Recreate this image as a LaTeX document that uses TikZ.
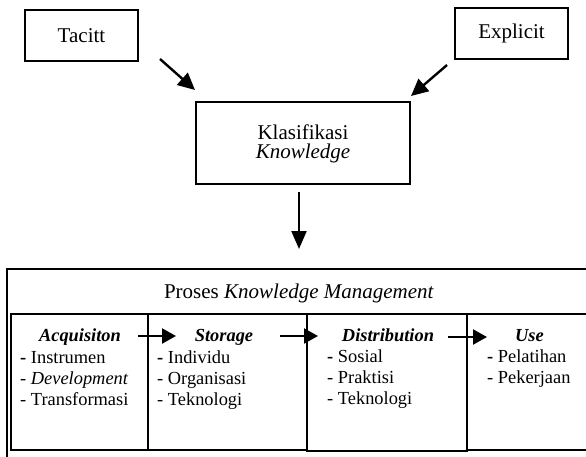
\documentclass[tikz,border=0pt]{standalone}
\usepackage{fontspec}
\setmainfont{Liberation Serif}
\usetikzlibrary{arrows.meta}
\begin{document}
\begin{tikzpicture}[x=1pt,y=-1pt,
  box/.style={draw, line width=1.1pt, rectangle, inner sep=0pt},
  big/.style={font=\fontsize{21}{20}\selectfont, inner sep=0pt},
  small/.style={font=\fontsize{18.4}{21}\selectfont, inner sep=0pt},
  arr/.style={line width=2.4pt, -{Triangle[length=17pt,width=16pt]}},
  darr/.style={line width=2.2pt, -{Triangle[length=18pt,width=15pt]}},
  harr/.style={line width=2.2pt, -{Triangle[length=14pt,width=15pt]}},
]
\useasboundingbox (0,0) rectangle (586,456);
\clip (0,0) rectangle (586,456);
% top boxes
\node[box, big, minimum width=113pt, minimum height=51pt] (tac) at (81.5,35.5) {Tacitt};
\node[box, big, minimum width=113pt, minimum height=51pt] (exp) at (511.5,33.5) {Explicit};
\node[box, minimum width=214pt, minimum height=82pt] (kla) at (303,143) {};
\node[big, anchor=base] (klat) at (303,139) {Klasifikasi};
\node[big, anchor=base] (klak) at (303,158) {\textit{Knowledge}};
% arrows to classification
\coordinate (t1) at (160,59);
\coordinate (t2) at (195,90);
\coordinate (e1) at (447,65);
\coordinate (e2) at (411,96);
\coordinate (d1) at (299,192);
\coordinate (d2) at (299,249);
\draw[arr] (t1) -- (t2);
\draw[arr] (e1) -- (e2);
\draw[darr] (d1) -- (d2);
% process frame
\node[box, minimum width=588pt, minimum height=196pt] (outer) at (301,367) {};
\node[big, anchor=base] (title) at (299,298) {Proses \textit{Knowledge Management}};
\node[box, minimum width=137pt, minimum height=136pt] (acq) at (79.5,382) {};
\node[box, minimum width=159pt, minimum height=136pt] (sto) at (227.5,382) {};
\node[box, minimum width=160pt, minimum height=137pt] (dis) at (387,382.5) {};
\node[box, minimum width=133pt, minimum height=136pt] (use) at (533.5,382) {};
% headings
\node[small, anchor=base] (acqh) at (80,341) {\textbf{\textit{Acquisiton}}};
\node[small, anchor=base] (stoh) at (224,341) {\textbf{\textit{Storage}}};
\node[small, anchor=base] (dish) at (388,341) {\textbf{\textit{Distribution}}};
\node[small, anchor=base] (useh) at (529.5,341) {\textbf{\textit{Use}}};
% lists
\node[small, anchor=base west] (a1) at (20,363) {\textbf{-} Instrumen};
\node[small, anchor=base west] (a2) at (20,384) {- \textit{Development}};
\node[small, anchor=base west] (a3) at (20,405) {- Transformasi};
\node[small, anchor=base west] (s1) at (157,363) {\textbf{-} Individu};
\node[small, anchor=base west] (s2) at (157,384) {- Organisasi};
\node[small, anchor=base west] (s3) at (157,405) {- Teknologi};
\node[small, anchor=base west] (p1) at (327,362) {\textbf{-} Sosial};
\node[small, anchor=base west] (p2) at (327,383) {- Praktisi};
\node[small, anchor=base west] (p3) at (327,404) {- Teknologi};
\node[small, anchor=base west] (u1) at (487,362) {\textbf{-} Pelatihan};
\node[small, anchor=base west] (u2) at (487,383) {- Pekerjaan};
% horizontal arrows
\coordinate (h1a) at (138,336);
\coordinate (h1b) at (176,336);
\coordinate (h2a) at (280,336);
\coordinate (h2b) at (318,336);
\coordinate (h3a) at (448,337);
\coordinate (h3b) at (487,337);
\draw[harr] (h1a) -- (h1b);
\draw[harr] (h2a) -- (h2b);
\draw[harr] (h3a) -- (h3b);
\end{tikzpicture}
\end{document}
